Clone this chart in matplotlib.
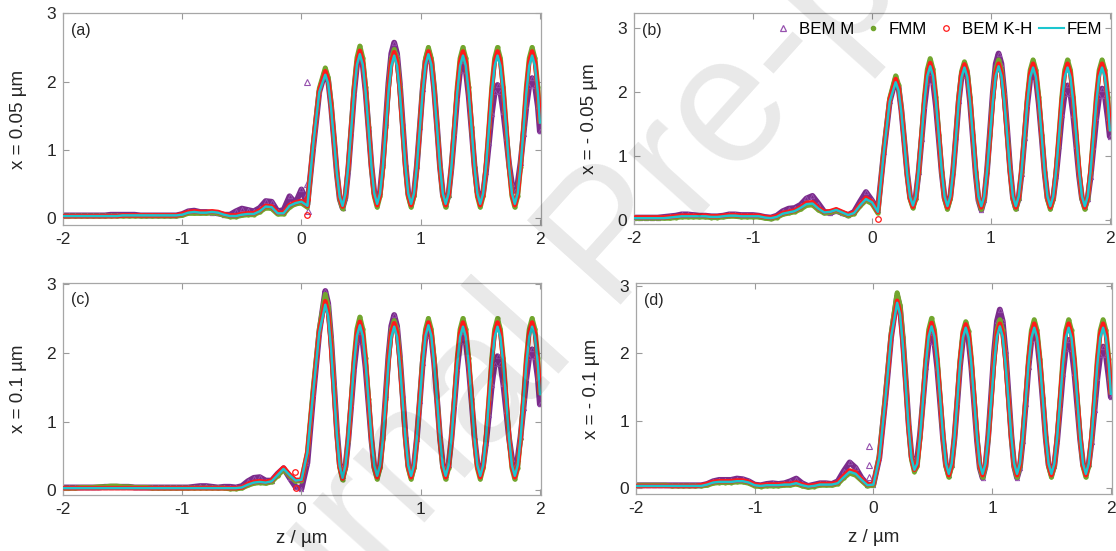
import matplotlib
matplotlib.use('Agg')
import matplotlib.pyplot as plt
from matplotlib.lines import Line2D

plt.rcParams['font.family'] = ['Liberation Sans', 'DejaVu Sans']
plt.rcParams['axes.unicode_minus'] = False

# sample positions (um)
z_left = [-2.00, -1.95, -1.90, -1.85, -1.80, -1.75, -1.70, -1.65, -1.60, -1.55,
          -1.50, -1.45, -1.40, -1.35, -1.30, -1.25, -1.20, -1.15, -1.10, -1.05,
          -1.00, -0.95, -0.90, -0.85, -0.80, -0.75, -0.70, -0.65, -0.60, -0.55,
          -0.50, -0.45, -0.40, -0.35, -0.30, -0.25, -0.20, -0.15, -0.10, -0.05,
          0.00, 0.05, 0.10, 0.15]
z_right = [0.200, 0.224, 0.248, 0.273, 0.297, 0.321, 0.345,
           0.369, 0.393, 0.418, 0.442, 0.466, 0.490,
           0.514, 0.538, 0.563, 0.587, 0.611, 0.635,
           0.659, 0.683, 0.707, 0.730, 0.754, 0.778,
           0.802, 0.825, 0.849, 0.873, 0.896, 0.920,
           0.944, 0.968, 0.993, 1.017, 1.041, 1.065,
           1.089, 1.113, 1.138, 1.162, 1.186, 1.210,
           1.234, 1.258, 1.283, 1.307, 1.331, 1.355,
           1.379, 1.403, 1.428, 1.452, 1.476, 1.500,
           1.524, 1.548, 1.573, 1.597, 1.621, 1.645,
           1.669, 1.693, 1.718, 1.742, 1.766, 1.790,
           1.814, 1.838, 1.863, 1.887, 1.911, 1.935,
           1.959, 1.983, 2.000]
z = z_left + z_right

# shared oscillation tails (z = 0.369 ... 2.0)
fem_tail = [0.36, 0.76, 1.31, 1.85, 2.25, 2.40,
            2.25, 1.85, 1.31, 0.76, 0.36, 0.21,
            0.36, 0.75, 1.30, 1.84, 2.23, 2.38,
            2.23, 1.84, 1.30, 0.75, 0.36, 0.21,
            0.36, 0.76, 1.31, 1.85, 2.25, 2.40,
            2.25, 1.85, 1.31, 0.76, 0.36, 0.21,
            0.36, 0.75, 1.30, 1.84, 2.23, 2.38,
            2.23, 1.84, 1.30, 0.75, 0.36, 0.21,
            0.36, 0.75, 1.30, 1.84, 2.23, 2.38,
            2.23, 1.84, 1.30, 0.75, 0.36, 0.21,
            0.36, 0.75, 1.30, 1.84, 2.23, 2.38,
            2.23, 1.84, 1.40]
bemkh_tail = [0.34, 0.75, 1.32, 1.88, 2.29, 2.45,
              2.29, 1.88, 1.32, 0.75, 0.34, 0.19,
              0.34, 0.75, 1.32, 1.88, 2.29, 2.43,
              2.29, 1.88, 1.32, 0.75, 0.34, 0.19,
              0.34, 0.75, 1.32, 1.88, 2.29, 2.44,
              2.29, 1.88, 1.32, 0.75, 0.34, 0.19,
              0.34, 0.75, 1.32, 1.88, 2.29, 2.44,
              2.29, 1.88, 1.32, 0.75, 0.34, 0.19,
              0.34, 0.75, 1.32, 1.88, 2.29, 2.44,
              2.29, 1.88, 1.32, 0.75, 0.34, 0.19,
              0.34, 0.75, 1.32, 1.88, 2.29, 2.44,
              2.29, 1.88, 1.42]
fmm_tail = [0.32, 0.75, 1.33, 1.92, 2.35, 2.52,
            2.35, 1.92, 1.33, 0.75, 0.32, 0.16,
            0.32, 0.75, 1.33, 1.91, 2.32, 2.47,
            2.33, 1.92, 1.33, 0.75, 0.32, 0.16,
            0.32, 0.75, 1.33, 1.92, 2.34, 2.50,
            2.34, 1.92, 1.33, 0.75, 0.32, 0.16,
            0.32, 0.75, 1.33, 1.92, 2.34, 2.50,
            2.34, 1.92, 1.33, 0.75, 0.32, 0.16,
            0.32, 0.75, 1.33, 1.92, 2.34, 2.50,
            2.34, 1.92, 1.33, 0.75, 0.32, 0.16,
            0.32, 0.75, 1.33, 1.92, 2.34, 2.50,
            2.34, 1.92, 1.42]

# ---- (a) x = 0.05 um
fem_a_left = [0.03, 0.03, 0.03, 0.03, 0.03, 0.03, 0.03, 0.03, 0.03, 0.03,
              0.04, 0.04, 0.04, 0.04, 0.04, 0.04, 0.04, 0.04, 0.04, 0.04,
              0.05, 0.08, 0.09, 0.08, 0.08, 0.09, 0.08, 0.05, 0.03, 0.03,
              0.05, 0.06, 0.06, 0.10, 0.17, 0.16, 0.07, 0.07, 0.18, 0.22,
              0.24, 0.18, 1.10, 1.85]
bemkh_a_left = [0.03, 0.03, 0.03, 0.03, 0.03, 0.03, 0.03, 0.03, 0.03, 0.03,
                0.04, 0.04, 0.04, 0.04, 0.04, 0.04, 0.04, 0.04, 0.04, 0.04,
                0.06, 0.09, 0.10, 0.09, 0.09, 0.10, 0.09, 0.06, 0.04, 0.04,
                0.06, 0.07, 0.07, 0.11, 0.18, 0.17, 0.08, 0.08, 0.19, 0.23,
                0.25, 0.18, 1.10, 1.87]
fmm_a_left = [0.03, 0.03, 0.03, 0.03, 0.03, 0.03, 0.03, 0.03, 0.03, 0.03,
              0.03, 0.03, 0.03, 0.03, 0.03, 0.03, 0.03, 0.03, 0.03, 0.03,
              0.04, 0.07, 0.07, 0.07, 0.07, 0.08, 0.07, 0.04, 0.02, 0.02,
              0.04, 0.05, 0.05, 0.09, 0.15, 0.14, 0.06, 0.06, 0.16, 0.21,
              0.22, 0.16, 1.10, 1.90]
bemm_a_left = [0.04, 0.04, 0.04, 0.04, 0.04, 0.04, 0.04, 0.04, 0.05, 0.05,
               0.05, 0.05, 0.05, 0.04, 0.04, 0.04, 0.04, 0.04, 0.04, 0.04,
               0.06, 0.10, 0.11, 0.09, 0.09, 0.08, 0.07, 0.05, 0.05, 0.10,
               0.14, 0.12, 0.10, 0.15, 0.25, 0.24, 0.10, 0.12, 0.32, 0.22,
               0.42, 0.20, 1.05, 1.85]
bemm_a_right = [2.15, 2.02, 1.65, 1.15, 0.65, 0.28, 0.15,
                0.30, 0.71, 1.28, 1.84, 2.25, 2.40,
                2.25, 1.86, 1.31, 0.77, 0.37, 0.22,
                0.38, 0.81, 1.40, 1.98, 2.41, 2.57,
                2.41, 1.98, 1.39, 0.79, 0.36, 0.20,
                0.35, 0.76, 1.33, 1.89, 2.30, 2.45,
                2.30, 1.89, 1.33, 0.76, 0.35, 0.20,
                0.34, 0.73, 1.25, 1.78, 2.16, 2.30,
                2.16, 1.79, 1.28, 0.76, 0.39, 0.25,
                0.36, 0.68, 1.10, 1.53, 1.84, 1.95,
                1.85, 1.56, 1.18, 0.79, 0.50, 0.40,
                0.51, 0.81, 1.23, 1.64, 1.94, 2.05,
                1.94, 1.64, 1.27]
fem_a = fem_a_left + [2.10, 1.97, 1.62, 1.14, 0.66, 0.31, 0.18] + fem_tail
bemkh_a = bemkh_a_left + [2.15, 2.02, 1.66, 1.16, 0.67, 0.30, 0.17] + bemkh_tail
fmm_a = fmm_a_left + [2.20, 2.06, 1.69, 1.17, 0.66, 0.28, 0.14] + fmm_tail
bemm_a = bemm_a_left + bemm_a_right
bemm_a_extra_z = [0.05, 0.045, 0.05, 0.055]
bemm_a_extra_v = [2.00, 0.50, 0.35, 0.10]
bemkh_a_extra_z = [0.05, 0.045]
bemkh_a_extra_v = [0.05, 0.28]

# ---- (b) x = -0.05 um
fem_b_left = [0.02, 0.02, 0.02, 0.02, 0.02, 0.02, 0.03, 0.04, 0.05, 0.05,
              0.05, 0.05, 0.05, 0.04, 0.04, 0.05, 0.06, 0.06, 0.05, 0.05,
              0.05, 0.05, 0.03, 0.02, 0.04, 0.09, 0.11, 0.13, 0.18, 0.24,
              0.25, 0.17, 0.11, 0.12, 0.15, 0.11, 0.07, 0.10, 0.22, 0.32,
              0.27, 0.12, 1.05, 1.85]
bemkh_b_left = [0.03, 0.03, 0.03, 0.03, 0.03, 0.03, 0.04, 0.05, 0.06, 0.06,
                0.06, 0.06, 0.06, 0.05, 0.05, 0.06, 0.07, 0.07, 0.06, 0.06,
                0.06, 0.06, 0.04, 0.03, 0.05, 0.10, 0.12, 0.14, 0.19, 0.26,
                0.27, 0.18, 0.12, 0.13, 0.16, 0.12, 0.08, 0.11, 0.23, 0.34,
                0.28, 0.12, 1.05, 1.88]
fmm_b_left = [0.02, 0.02, 0.02, 0.02, 0.02, 0.02, 0.02, 0.03, 0.04, 0.04,
              0.04, 0.04, 0.04, 0.03, 0.03, 0.04, 0.05, 0.05, 0.04, 0.04,
              0.04, 0.04, 0.02, 0.01, 0.03, 0.08, 0.10, 0.12, 0.16, 0.22,
              0.23, 0.15, 0.10, 0.11, 0.14, 0.10, 0.06, 0.09, 0.21, 0.30,
              0.25, 0.10, 1.08, 1.90]
bemm_b_left = [0.03, 0.03, 0.03, 0.03, 0.03, 0.04, 0.05, 0.06, 0.08, 0.08,
               0.07, 0.06, 0.06, 0.05, 0.05, 0.06, 0.08, 0.08, 0.07, 0.07,
               0.07, 0.06, 0.04, 0.03, 0.06, 0.13, 0.17, 0.18, 0.23, 0.33,
               0.37, 0.25, 0.12, 0.10, 0.14, 0.10, 0.07, 0.12, 0.28, 0.43,
               0.30, 0.15, 1.05, 1.85]
bemm_b_right = [2.20, 2.07, 1.71, 1.21, 0.72, 0.35, 0.22,
                0.36, 0.74, 1.26, 1.78, 2.16, 2.30,
                2.16, 1.78, 1.25, 0.73, 0.34, 0.20,
                0.35, 0.75, 1.30, 1.85, 2.25, 2.40,
                2.25, 1.84, 1.28, 0.71, 0.30, 0.15,
                0.31, 0.76, 1.38, 1.99, 2.44, 2.60,
                2.44, 1.99, 1.39, 0.79, 0.34, 0.18,
                0.33, 0.72, 1.27, 1.81, 2.20, 2.35,
                2.21, 1.81, 1.28, 0.74, 0.34, 0.20,
                0.33, 0.68, 1.15, 1.63, 1.97, 2.10,
                1.97, 1.63, 1.15, 0.68, 0.33, 0.20,
                0.32, 0.66, 1.13, 1.59, 1.93, 2.05,
                1.93, 1.59, 1.30]
fem_b = fem_b_left + [2.15, 2.02, 1.67, 1.19, 0.70, 0.35, 0.22] + fem_tail
bemkh_b = bemkh_b_left + [2.20, 2.07, 1.70, 1.20, 0.70, 0.33, 0.20] + bemkh_tail
fmm_b = fmm_b_left + [2.25, 2.11, 1.73, 1.22, 0.70, 0.32, 0.18] + fmm_tail
bemm_b = bemm_b_left + bemm_b_right
bemm_b_extra_z = []
bemm_b_extra_v = []
bemkh_b_extra_z = [0.05]
bemkh_b_extra_v = [0.01]

# ---- (c) x = 0.1 um
fem_c_left = [0.03, 0.03, 0.03, 0.03, 0.03, 0.03, 0.03, 0.03, 0.03, 0.03,
              0.03, 0.03, 0.03, 0.03, 0.03, 0.03, 0.03, 0.03, 0.03, 0.03,
              0.03, 0.03, 0.03, 0.03, 0.03, 0.03, 0.03, 0.03, 0.03, 0.03,
              0.04, 0.08, 0.11, 0.12, 0.11, 0.13, 0.22, 0.31, 0.22, 0.14,
              0.15, 0.55, 1.45, 2.30]
bemkh_c_left = [0.03, 0.03, 0.03, 0.03, 0.03, 0.03, 0.03, 0.03, 0.03, 0.03,
                0.03, 0.03, 0.03, 0.03, 0.03, 0.03, 0.03, 0.03, 0.03, 0.03,
                0.03, 0.03, 0.03, 0.03, 0.03, 0.03, 0.03, 0.03, 0.03, 0.03,
                0.04, 0.09, 0.12, 0.13, 0.12, 0.14, 0.24, 0.33, 0.23, 0.15,
                0.15, 0.55, 1.45, 2.32]
fmm_c_left = [0.03, 0.03, 0.03, 0.04, 0.04, 0.04, 0.05, 0.05, 0.06, 0.06,
              0.05, 0.05, 0.04, 0.04, 0.04, 0.03, 0.03, 0.03, 0.03, 0.03,
              0.03, 0.03, 0.03, 0.03, 0.03, 0.03, 0.03, 0.03, 0.02, 0.02,
              0.03, 0.07, 0.10, 0.11, 0.10, 0.12, 0.21, 0.30, 0.21, 0.13,
              0.14, 0.55, 1.50, 2.35]
bemm_c_left = [0.04, 0.04, 0.04, 0.04, 0.04, 0.04, 0.04, 0.05, 0.05, 0.05,
               0.05, 0.05, 0.04, 0.04, 0.04, 0.04, 0.04, 0.04, 0.04, 0.04,
               0.04, 0.04, 0.05, 0.06, 0.06, 0.05, 0.04, 0.05, 0.05, 0.04,
               0.06, 0.13, 0.18, 0.19, 0.14, 0.14, 0.24, 0.32, 0.18, 0.05,
               0.02, 0.40, 1.40, 2.30]
bemm_c_right = [2.90, 2.72, 2.23, 1.55, 0.88, 0.38, 0.20,
                0.34, 0.73, 1.25, 1.78, 2.16, 2.30,
                2.16, 1.78, 1.25, 0.73, 0.34, 0.20,
                0.36, 0.79, 1.38, 1.96, 2.39, 2.55,
                2.39, 1.96, 1.38, 0.79, 0.36, 0.20,
                0.35, 0.75, 1.30, 1.85, 2.25, 2.40,
                2.25, 1.86, 1.31, 0.77, 0.37, 0.22,
                0.36, 0.74, 1.26, 1.78, 2.16, 2.30,
                2.16, 1.79, 1.28, 0.76, 0.39, 0.25,
                0.36, 0.68, 1.10, 1.53, 1.84, 1.95,
                1.84, 1.55, 1.15, 0.75, 0.46, 0.35,
                0.46, 0.78, 1.20, 1.63, 1.94, 2.05,
                1.94, 1.63, 1.25]
fem_c = fem_c_left + [2.70, 2.53, 2.07, 1.44, 0.81, 0.35, 0.18] + fem_tail
bemkh_c = bemkh_c_left + [2.75, 2.58, 2.11, 1.46, 0.82, 0.34, 0.17] + bemkh_tail
fmm_c = fmm_c_left + [2.85, 2.67, 2.18, 1.50, 0.83, 0.33, 0.15] + fmm_tail
bemm_c = bemm_c_left + bemm_c_right
bemm_c_extra_z = []
bemm_c_extra_v = []
bemkh_c_extra_z = [-0.05, -0.045]
bemkh_c_extra_v = [0.27, 0.03]

# ---- (d) x = -0.1 um
fem_d_left = [0.03, 0.03, 0.03, 0.03, 0.03, 0.03, 0.03, 0.03, 0.03, 0.03,
              0.03, 0.03, 0.05, 0.08, 0.09, 0.09, 0.09, 0.10, 0.10, 0.08,
              0.04, 0.03, 0.04, 0.04, 0.04, 0.05, 0.05, 0.07, 0.04, 0.02,
              0.03, 0.05, 0.05, 0.05, 0.07, 0.16, 0.24, 0.21, 0.12, 0.04,
              0.05, 0.45, 1.30, 2.25]
bemkh_d_left = [0.03, 0.03, 0.03, 0.03, 0.03, 0.03, 0.03, 0.03, 0.03, 0.03,
                0.03, 0.04, 0.06, 0.09, 0.10, 0.10, 0.10, 0.11, 0.11, 0.09,
                0.05, 0.04, 0.05, 0.05, 0.05, 0.06, 0.06, 0.08, 0.05, 0.03,
                0.04, 0.06, 0.06, 0.06, 0.08, 0.18, 0.26, 0.23, 0.13, 0.05,
                0.06, 0.45, 1.30, 2.27]
fmm_d_left = [0.04, 0.04, 0.04, 0.04, 0.04, 0.04, 0.03, 0.03, 0.03, 0.03,
              0.03, 0.03, 0.04, 0.07, 0.08, 0.08, 0.08, 0.09, 0.09, 0.07,
              0.03, 0.02, 0.03, 0.03, 0.03, 0.04, 0.04, 0.06, 0.03, 0.01,
              0.02, 0.04, 0.04, 0.04, 0.06, 0.15, 0.22, 0.19, 0.11, 0.03,
              0.04, 0.48, 1.35, 2.30]
bemm_d_left = [0.04, 0.04, 0.04, 0.04, 0.04, 0.04, 0.04, 0.04, 0.04, 0.04,
               0.04, 0.04, 0.06, 0.10, 0.12, 0.12, 0.12, 0.14, 0.13, 0.10,
               0.05, 0.04, 0.06, 0.07, 0.06, 0.07, 0.10, 0.14, 0.07, 0.03,
               0.05, 0.07, 0.07, 0.06, 0.10, 0.25, 0.38, 0.30, 0.15, 0.05,
               0.05, 0.45, 1.30, 2.25]
bemm_d_right = [2.85, 2.68, 2.21, 1.58, 0.94, 0.47, 0.30,
                0.43, 0.80, 1.30, 1.80, 2.17, 2.30,
                2.16, 1.78, 1.25, 0.73, 0.34, 0.20,
                0.34, 0.74, 1.28, 1.81, 2.21, 2.35,
                2.20, 1.80, 1.25, 0.70, 0.30, 0.15,
                0.32, 0.78, 1.40, 2.03, 2.48, 2.65,
                2.48, 2.03, 1.40, 0.78, 0.32, 0.15,
                0.30, 0.70, 1.25, 1.80, 2.20, 2.35,
                2.21, 1.81, 1.28, 0.74, 0.34, 0.20,
                0.33, 0.70, 1.20, 1.70, 2.07, 2.20,
                2.07, 1.71, 1.21, 0.72, 0.35, 0.22,
                0.35, 0.69, 1.16, 1.63, 1.97, 2.10,
                1.97, 1.63, 1.35]
fem_d = fem_d_left + [2.75, 2.58, 2.13, 1.51, 0.89, 0.44, 0.27] + fem_tail
bemkh_d = bemkh_d_left + [2.78, 2.61, 2.15, 1.53, 0.90, 0.44, 0.27] + bemkh_tail
fmm_d = fmm_d_left + [2.90, 2.72, 2.24, 1.57, 0.91, 0.42, 0.24] + fmm_tail
bemm_d = bemm_d_left + bemm_d_right
bemm_d_extra_z = [-0.04, -0.04, -0.04]
bemm_d_extra_v = [0.62, 0.34, 0.17]
bemkh_d_extra_z = []
bemkh_d_extra_v = []

panel_tags = ['(a)', '(b)', '(c)', '(d)']
ylabels = ['x = 0.05 \u00b5m', 'x = - 0.05 \u00b5m', 'x = 0.1 \u00b5m', 'x = - 0.1 \u00b5m']
legend_labels = ['BEM M', 'FMM', 'BEM K-H', 'FEM']

purple = '#7B2C8C'
purple_mk = '#9651AE'
green = '#72A62E'
red = '#FF1A1A'
cyan = '#1CC6CF'

fig = plt.figure(figsize=(11.16, 5.51), dpi=100)
boxes = [[0.0565, 0.5917, 0.4283, 0.3842],
         [0.5681, 0.5935, 0.4274, 0.3824],
         [0.0565, 0.1016, 0.4283, 0.3853],
         [0.5699, 0.1034, 0.4265, 0.3824]]
ylims = [(-0.1, 3.0), (-0.07, 3.23), (-0.07, 3.02), (-0.09, 3.04)]

panels = [
    (bemm_a, fmm_a, bemkh_a, fem_a, bemm_a_extra_z, bemm_a_extra_v, bemkh_a_extra_z, bemkh_a_extra_v),
    (bemm_b, fmm_b, bemkh_b, fem_b, bemm_b_extra_z, bemm_b_extra_v, bemkh_b_extra_z, bemkh_b_extra_v),
    (bemm_c, fmm_c, bemkh_c, fem_c, bemm_c_extra_z, bemm_c_extra_v, bemkh_c_extra_z, bemkh_c_extra_v),
    (bemm_d, fmm_d, bemkh_d, fem_d, bemm_d_extra_z, bemm_d_extra_v, bemkh_d_extra_z, bemkh_d_extra_v),
]

for i, (bm, fm, bk, fe, bmz, bmv, bkz, bkv) in enumerate(panels):
    ax = fig.add_axes(boxes[i])
    # BEM M: dense hollow triangles -> band
    ax.plot(z, bm, color=purple, lw=4.2, solid_joinstyle='round', solid_capstyle='round', zorder=1)
    ax.plot(z, bm, ls='none', marker='^', ms=3.2, mfc='none', mec=purple_mk, mew=0.6, zorder=1.1)
    ax.plot(bmz, bmv, ls='none', marker='^', ms=4, mfc='none', mec=purple_mk, mew=0.8, zorder=1.1)
    # FMM: dense dots
    ax.plot(z, fm, color=green, lw=3.6, solid_joinstyle='round', solid_capstyle='round', zorder=2)
    ax.plot(z, fm, ls='none', marker='.', ms=4, color=green, zorder=2.1)
    # BEM K-H: hollow circles
    ax.plot(z, bk, color=red, lw=3.3, solid_joinstyle='round', zorder=3)
    ax.plot(bkz, bkv, ls='none', marker='o', ms=4, mfc='none', mec=red, mew=0.9, zorder=3.1)
    # FEM line
    ax.plot(z, fe, color=cyan, lw=1.8, solid_joinstyle='round', zorder=4)

    ax.set_xlim(-2.0, 2.01)
    ax.set_ylim(*ylims[i])
    ax.set_xticks([-2, -1, 0, 1, 2])
    ax.set_yticks([0, 1, 2, 3])
    ax.tick_params(direction='in', top=True, right=True, length=4, width=0.8,
                   colors='#9a9a9a', labelcolor='#262626', labelsize=12.5, pad=5)
    for sp in ax.spines.values():
        sp.set_color('#a6a6a6')
        sp.set_linewidth(0.9)
    ax.set_ylabel(ylabels[i], fontsize=13.5, color='#262626')
    ax.yaxis.set_label_coords(-0.076, 0.5)
    ax.text(0.017, 0.955, panel_tags[i], transform=ax.transAxes, ha='left', va='top',
            fontsize=11.5, color='#262626')
    if i >= 2:
        ax.set_xlabel('z / \u00b5m', fontsize=13.5, color='#262626')
        ax.xaxis.set_label_coords(0.5, -0.165)
    if i == 1:
        handles = [
            Line2D([], [], ls='none', marker='^', ms=4, mfc='none', mec=purple_mk, mew=0.9),
            Line2D([], [], ls='none', marker='.', ms=6, color=green),
            Line2D([], [], ls='none', marker='o', ms=4, mfc='none', mec=red, mew=0.9),
            Line2D([], [], color=cyan, lw=1.5),
        ]
        ax.legend(handles, legend_labels, loc='upper right', ncol=4, frameon=False,
                  fontsize=12.2, handlelength=1.45, handletextpad=0.2, columnspacing=0.4,
                  borderaxespad=0.1, bbox_to_anchor=(1.0, 1.0))

# watermark
fig.text(0.55, 0.56, 'Journal Pre-proof', rotation=48, fontsize=130, color='k',
         alpha=0.09, ha='center', va='center', zorder=20)

fig.savefig('out.png', dpi=100)
